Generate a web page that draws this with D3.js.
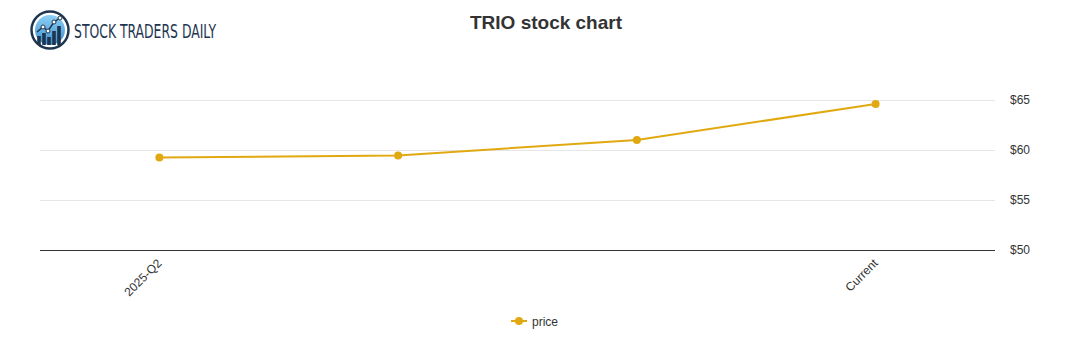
<!DOCTYPE html>
<meta charset="utf-8">
<html>
<style>
body { margin: 0; background: #fff; }
svg { font-family: "Liberation Sans", Arial, sans-serif; }
.grid line { stroke: #e6e6e6; stroke-width: 1px; }
.tick text { fill: #333; font-size: 12px; }
</style>
<body>
<script src="https://cdnjs.cloudflare.com/ajax/libs/d3/7.8.5/d3.min.js"></script>
<script>
	var categories = ["2025-Q2", "2025-Q3", "2025-Q4", "Current"];
	var tickLabels = ["2025-Q2", "", "", "Current"];
	var prices = [59.25, 59.45, 61.0, 64.6];
	var yTicks = [50, 55, 60, 65];

	var width = 1091;
	var height = 350;
	var plotLeft = 40, plotRight = 995, plotTop = 50, plotBottom = 250;
	var lineColor = "#e1a911";

	var svg = d3.select("body")
				.append("svg")
				.attr("width", width)
				.attr("height", height);

	var x = d3.scaleBand().domain(categories).range([plotLeft, plotRight]);
	var y = d3.scaleLinear().domain([50, 70]).range([plotBottom, plotTop]);

	// grid
	svg.append("g")
		.attr("class", "grid")
		.selectAll("line")
		.data(yTicks.slice(1))
		.enter()
		.append("line")
		.attr("x1", plotLeft).attr("x2", plotRight)
		.attr("y1", d => y(d) + 0.5).attr("y2", d => y(d) + 0.5);

	// right axis
	var yAxis = svg.append("g")
		.attr("transform", "translate(" + plotRight + ",0)")
		.call(d3.axisRight(y).tickValues(yTicks).tickSize(0).tickPadding(15).tickFormat(d => "$" + d));
	yAxis.select(".domain").remove();

	// baseline
	svg.append("line")
		.attr("x1", plotLeft).attr("x2", plotRight)
		.attr("y1", plotBottom + 0.5).attr("y2", plotBottom + 0.5)
		.attr("stroke", "#333").attr("stroke-width", 1);

	// x labels
	svg.append("g")
		.selectAll("text")
		.data(categories)
		.enter()
		.append("text")
		.attr("transform", d => "translate(" + (x(d) + x.bandwidth() / 2 + 3) + "," + (plotBottom + 14) + ") rotate(-45)")
		.attr("text-anchor", "end")
		.attr("font-size", 12)
		.attr("fill", "#333")
		.text((d, i) => tickLabels[i]);

	// line
	var line = d3.line()
		.x((d, i) => x(categories[i]) + x.bandwidth() / 2)
		.y(d => y(d));

	svg.append("path")
		.datum(prices)
		.attr("d", line)
		.attr("fill", "none")
		.attr("stroke", lineColor)
		.attr("stroke-width", 2);

	svg.append("g")
		.selectAll("circle")
		.data(prices)
		.enter()
		.append("circle")
		.attr("cx", (d, i) => x(categories[i]) + x.bandwidth() / 2)
		.attr("cy", d => y(d))
		.attr("r", 4)
		.attr("fill", lineColor);

	// title
	svg.append("text")
		.attr("x", 546).attr("y", 29)
		.attr("text-anchor", "middle")
		.attr("font-size", 19)
		.attr("font-weight", "bold")
		.attr("fill", "#333")
		.text("TRIO stock chart");

	// legend
	var legend = svg.append("g").attr("transform", "translate(511,321)");
	legend.append("line").attr("x1", 0).attr("x2", 16).attr("stroke", lineColor).attr("stroke-width", 2);
	legend.append("circle").attr("cx", 8).attr("r", 4).attr("fill", lineColor);
	legend.append("text").attr("x", 21).attr("y", 4.5).attr("font-size", 12).attr("fill", "#333").text("price");

	// logo
	var logo = svg.append("g").attr("transform", "translate(50,30)");
	var grad = svg.append("defs").append("linearGradient").attr("id", "lg").attr("x1", 0).attr("y1", 0).attr("x2", 0).attr("y2", 1);
	grad.append("stop").attr("offset", "0%").attr("stop-color", "#8fd0f5");
	grad.append("stop").attr("offset", "100%").attr("stop-color", "#3b8fd0");
	logo.append("circle").attr("r", 18.5).attr("fill", "#fff").attr("stroke", "#1e3550").attr("stroke-width", 2.5);
	logo.append("circle").attr("r", 15).attr("fill", "url(#lg)");
	var bars = [[-11, 6], [-6, 3], [-1, 7], [4, 1], [9, -4]];
	logo.selectAll("rect.b").data(bars).enter().append("rect")
		.attr("x", d => d[0] - 1.8).attr("y", d => d[1])
		.attr("width", 3.6).attr("height", d => 15 - d[1])
		.attr("fill", "#1e3550");
	logo.append("path")
		.attr("d", "M-13,2 L-7,-3 L-2,1 L4,-8 L10,-12")
		.attr("fill", "none").attr("stroke", "#1e3550").attr("stroke-width", 1.5);
	logo.selectAll("circle.p").data([[-7, -3], [-2, 1], [4, -8], [10, -12]]).enter().append("circle")
		.attr("cx", d => d[0]).attr("cy", d => d[1]).attr("r", 2)
		.attr("fill", "#fff").attr("stroke", "#1e3550").attr("stroke-width", 1);
	svg.append("text")
		.attr("x", 74).attr("y", 38)
		.attr("font-family", "'DejaVu Sans Condensed', 'Liberation Sans Narrow', sans-serif")
		.attr("font-size", 19)
		.attr("fill", "#1e3550")
		.attr("textLength", 142)
		.attr("lengthAdjust", "spacingAndGlyphs")
		.text("STOCK TRADERS DAILY");
</script>
</body>
</html>
